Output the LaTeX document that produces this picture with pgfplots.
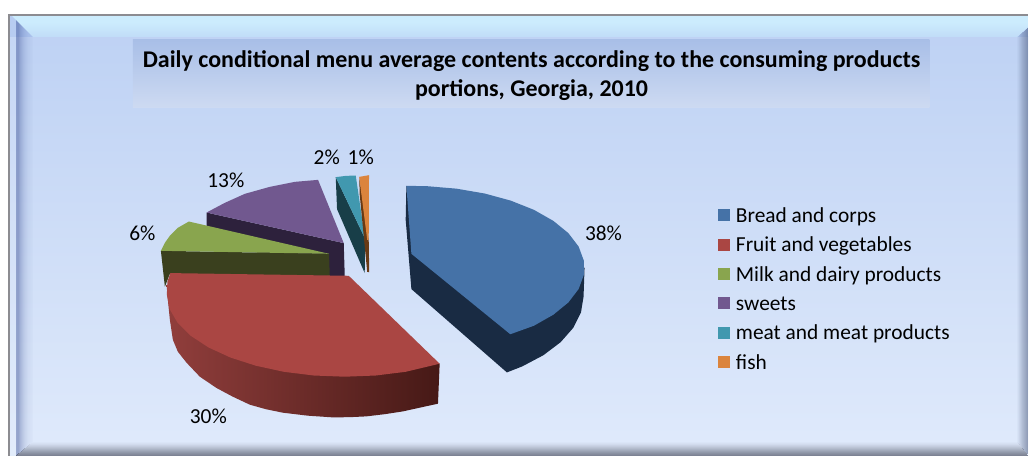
\documentclass[border=0pt]{standalone}
\usepackage{fontspec}
\setmainfont{Carlito}
\usepackage{pgfplots}
\pgfplotsset{compat=1.18}

% Office-style series colours
\definecolor{sBlue}{HTML}{4572A7}
\definecolor{sRed}{HTML}{AA4643}
\definecolor{sGreen}{HTML}{89A54E}
\definecolor{sPurple}{HTML}{71588F}
\definecolor{sTeal}{HTML}{4198AF}
\definecolor{sOrange}{HTML}{DB843D}
\definecolor{dBlue}{RGB}{25,43,67}
\definecolor{dGreen}{RGB}{58,64,30}
\definecolor{dPurple}{RGB}{45,33,60}
\definecolor{dTeal}{RGB}{24,62,72}
\definecolor{dOrange}{RGB}{105,58,20}
\definecolor{redL}{RGB}{145,62,60}
\definecolor{redR}{RGB}{70,25,22}

% Panel background and bevels
\definecolor{bgLo}{RGB}{240,246,255}
\definecolor{bgHi}{RGB}{174,198,240}
\definecolor{tLo}{RGB}{224,232,247}
\definecolor{tHi}{RGB}{150,177,226}
\definecolor{bvA}{RGB}{172,200,238}
\definecolor{bvB}{RGB}{204,236,253}
\definecolor{bvC}{RGB}{188,214,245}
\definecolor{frame}{RGB}{140,140,145}
\definecolor{edgeL}{RGB}{50,70,140}
\definecolor{edgeR}{RGB}{60,75,110}
\definecolor{edgeB}{RGB}{55,58,75}
\pgfdeclareverticalshading{panelbg}{100bp}{
  color(0bp)=(bgLo); color(100bp)=(bgHi)}
\pgfdeclareverticalshading{titlebg}{100bp}{
  color(0bp)=(tLo); color(100bp)=(tHi)}
\pgfdeclareverticalshading{bevtop}{100bp}{
  color(0bp)=(bgHi); color(12bp)=(bvC); color(60bp)=(bvB);
  color(82bp)=(bvB); color(100bp)=(bvA)}

\begin{document}
\begin{tikzpicture}
\begin{scope}[x=1pt,y=-1pt,yshift=456pt]
  \path (0,0) rectangle (1029,456);
  \shade[shading=panelbg] (9,37) rectangle (1029,456);
  \fill[bgHi] (9,15) rectangle (1029,37);
  \fill[white,opacity=.12] (9,16) rectangle (16,456);
  % left bevel
  \foreach \xx/\aa in {16/.40,17/.42,18/.42,19/.36,20/.30,21/.26,22/.22,23/.18,24/.15,25/.12,26/.10,27/.08,28/.06,29/.05,30/.04,31/.03,32/.02}{
    \fill[edgeL,opacity=\aa] (\xx,{16+(\xx-16)*21/17}) rectangle (\xx+1,{456-(\xx-16)*14/17});
  }
  % right bevel
  \foreach \xx/\aa in {1018/.03,1019/.07,1020/.12,1021/.17,1022/.22,1023/.27,1024/.31,1025/.35,1026/.39,1027/.43,1028/.47}{
    \fill[edgeR,opacity=\aa] (\xx,{37-(\xx-1018)*10/11}) rectangle (\xx+1,{443+(\xx-1018)*13/11});
  }
  % bottom bevel
  \foreach \yy/\aa in {442/.02,443/.05,444/.08,445/.12,446/.16,447/.21,448/.26,449/.31,450/.36,451/.41,452/.46,453/.50,454/.54,455/.58}{
    \fill[edgeB,opacity=\aa] ({16+(455-\yy)*17/14},\yy) rectangle ({1029-(455-\yy)*11/14},\yy+1);
  }
  % top bevel
  \shade[shading=bevtop] (12,16) -- (1029,16) -- (1029,27) -- (1018,37) -- (33,37) -- cycle;
  \draw[frame,line width=1.6pt] (9,456) -- (9,15) -- (1029,15);
  \shade[shading=titlebg] (133,40) rectangle (930,108);
\end{scope}
\begin{axis}[
  at={(0pt,0pt)}, anchor=south west,
  scale only axis, width=1029pt, height=456pt,
  xmin=0, xmax=1029, ymin=0, ymax=456, y dir=reverse,
  axis lines=none, clip=false,
  legend style={at={(axis cs:719,208.5)}, anchor=north west, draw=none, fill=none,
    inner sep=0pt, outer sep=0pt, row sep=9.4pt,
    font=\fontsize{21.4}{24}\selectfont,
    nodes={inner sep=0pt, text height=14pt, text depth=6pt}},
  legend cell align=left,
  legend image code/.code={\path[draw=none,fill=none] (0pt,-3pt) rectangle (17.5pt,9pt);\path[#1,draw=none] (0pt,-3pt) rectangle (12pt,9pt);},
]
% --- sweets ---
\addplot[forget plot, draw=none, fill=dPurple] coordinates {
  (206.7,212.7)(344,243.3)(345,276)(300,276)(206.7,226)} --cycle;
\addplot[forget plot, draw=none, fill=sPurple] coordinates {
  (318.3,180)(295,182)(270,187)(245,194)(225,203)(206.7,212.7)(344,243.3)} --cycle;
% --- milk and dairy products ---
\addplot[forget plot, draw=none, fill=dGreen] coordinates {
  (161,251)(329.3,254)(330,276)(170,274)(165,287)} --cycle;
\addplot[forget plot, draw=none, fill=sGreen] coordinates {
  (189,221.7)(178,228)(170,236)(165,243)(161,251)(329.3,254)} --cycle;
% --- fruit and vegetables ---
\addplot[forget plot, draw=none, shade, left color=redL, right color=redR] coordinates {
  (166.7,285)(168,300)(170,320)(173,340)(178,352)(186.7,363)(200,377)(216.7,388.3)
  (233,397)(250,405)(266,409.5)(283,413)(308,416)(333,417.7)(350,417.5)(366.7,416.7)
  (385,414.5)(403.3,411.7)(420,408)(438.3,404)(440,364)(300,300)} --cycle;
\addplot[forget plot, draw=none, fill=sRed] coordinates {
  (170.5,273.3)(349,276)(440,364)(405.9,372.1)(376,375.8)(345,377)(314,375.8)(284.1,372.1)
  (256,366)(230.6,357.8)(208.6,347.7)(190.8,336)(177.7,323)(169.7,309.2)(167,295)(167.5,282)} --cycle;
% --- meat and meat products ---
\addplot[forget plot, draw=none, fill=dTeal] coordinates {
  (336,177.3)(337.3,209.3)(365,273.3)(365.3,238.7)} --cycle;
\addplot[forget plot, draw=none, fill=sTeal] coordinates {
  (336,177.3)(346,176)(356,175.7)(365.3,238.7)} --cycle;
% --- fish ---
\addplot[forget plot, draw=none, fill=dOrange] coordinates {
  (359.5,177)(360,195)(367.5,272)(369.5,272.5)(369,240)} --cycle;
\addplot[forget plot, draw=none, fill=sOrange] coordinates {
  (359.5,177)(369.3,175.3)(369,240)(367.5,240)} --cycle;
% --- bread and corps ---
\addplot[forget plot, draw=none, fill=dBlue] coordinates {
  (585,268)(584,297)(581.4,312.8)(573.7,328.1)(561,342.5)(543.8,355.5)(522.6,366.7)(507.3,372.7)
  (411.7,289.3)(406,220)(406.7,186)} --cycle;
\addplot[forget plot, draw=none, fill=sBlue] coordinates {
  (406.7,186)(427,186.3)(456.8,188.8)(485.2,193.7)(511.2,200.8)(534.3,210)(553.7,221)(568.8,233.3)
  (579.1,246.8)(584.3,260.9)(584.3,275.1)(579.1,289.2)(568.8,302.7)(553.7,315)(534.3,326)(510.7,334.5)
  (411.7,254)} --cycle;

% Legend swatches
\addlegendimage{fill=sBlue}\addlegendentry{Bread and corps}
\addlegendimage{fill=sRed}\addlegendentry{Fruit and vegetables}
\addlegendimage{fill=sGreen}\addlegendentry{Milk and dairy products}
\addlegendimage{fill=sPurple}\addlegendentry{sweets}
\addlegendimage{fill=sTeal}\addlegendentry{meat and meat products}
\addlegendimage{fill=sOrange}\addlegendentry{fish}

% Percentage labels
\begin{scope}[every node/.style={font=\fontsize{21.4}{24}\selectfont, inner sep=0pt}]
\node at (axis cs:604,233) {38\%};
\node at (axis cs:208.5,417) {30\%};
\node at (axis cs:142.5,233) {6\%};
\node at (axis cs:226,180) {13\%};
\node at (axis cs:327,157.5) {2\%};
\node at (axis cs:361,157.5) {1\%};
\end{scope}
% Title
\node[font=\fontsize{24}{29}\selectfont\bfseries, align=center, inner sep=0pt] at (axis cs:532,75.5)
  {Daily conditional menu average contents according to the consuming products\\portions, Georgia, 2010};
\end{axis}
\end{tikzpicture}
\end{document}
